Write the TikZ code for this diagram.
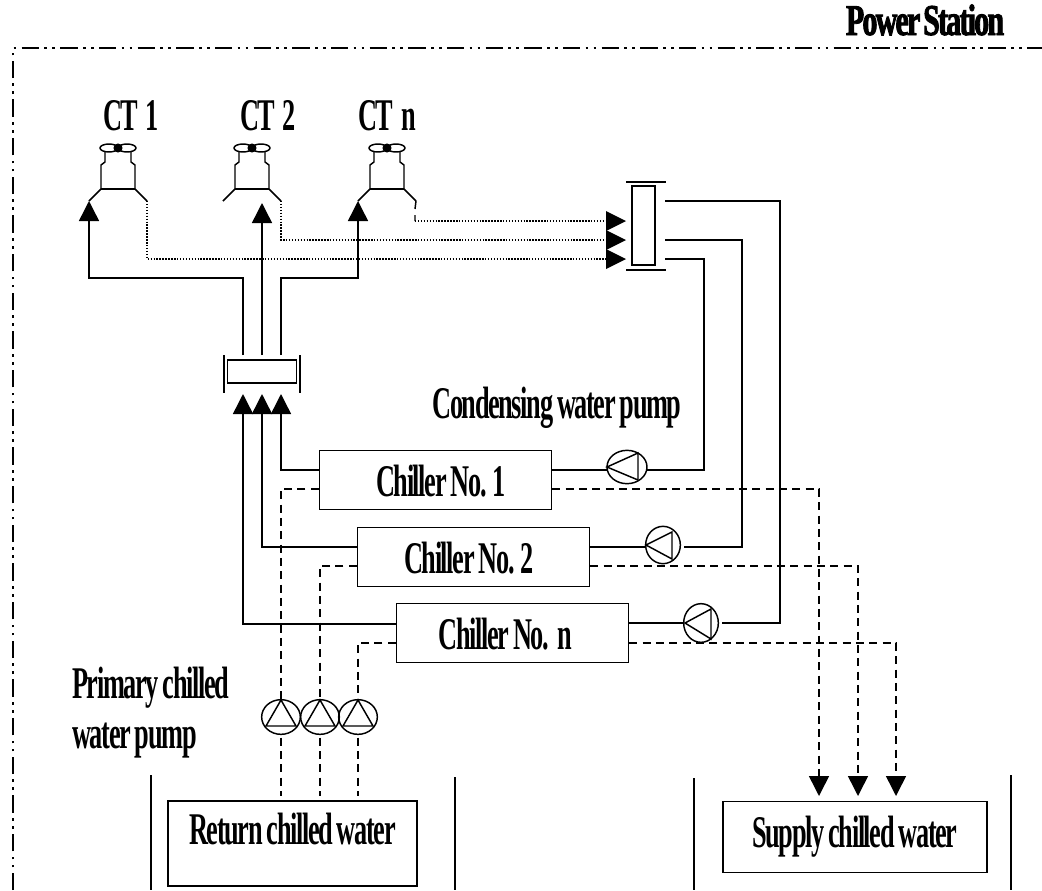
\documentclass[tikz,border=0pt]{standalone}
\usepackage{fontspec}
\setmainfont[FakeStretch=0.58,LetterSpace=-3,WordSpace=0.75]{Liberation Serif}
\newfontfamily\stationfont[FakeStretch=0.68,LetterSpace=-4,WordSpace=0.5,FakeBold=2]{Liberation Serif Bold}
\usetikzlibrary{arrows.meta,shapes.geometric}

\begin{document}
\begin{tikzpicture}[
    x=0.75pt, y=-0.75pt,
    font=\fontsize{34}{36}\selectfont\bfseries,
    line/.style = {line width=1.1pt},
    arrow/.style = {line, -{Triangle[length=15pt,width=15pt]}},
    dashline/.style = {line, dash pattern=on 6pt off 4pt},
    dashtip/.style = {dashline, -{Triangle[length=15pt,width=15pt]}},
    dotline/.style = {line width=0.8pt, dash pattern=on 1.1pt off 1.1pt},
    framing/.style = {line width=1.3pt, dash pattern=on 13pt off 4pt on 2pt off 4pt on 2pt off 4pt},
    box/.style = {rectangle, draw, line width=1.1pt, inner sep=0pt},
    chiller/.style = {box, minimum width=174pt, minimum height=44pt, text height=25pt, text depth=0pt},
    tank/.style = {box, minimum height=60pt},
    pump/.style = {ellipse, draw, line width=1.1pt, inner sep=0pt},
    tag/.style = {anchor=base, inner sep=0pt},
    tower/.pic = {
        \draw[line] (-17,41) -- (17,41);
        \draw[line] (-13,4) -- (-13,14) -- (-17,17) -- (-17,41) -- (-29,53) coordinate (-in);
        \draw[line] (13,4) -- (13,14) -- (17,17) -- (17,41) -- (29,53) coordinate (-out);
        \draw[line] (-9,0) ellipse (9 and 4) (9,0) ellipse (9 and 4);
        \fill (0,0) circle (3.4pt);
    }
]
    \useasboundingbox (0,0) rectangle (1042,890);

    % Station boundary
    \draw[framing] (13,890) -- (13,48) -- (1042,48);
    \node[tag, font=\fontsize{33}{35}\selectfont\stationfont] (station) at (925,35) {Power Station};

    % Cooling towers
    \pic (ctA) at (118,148) {tower};
    \pic (ctB) at (252,148) {tower};
    \pic (ctN) at (387,148) {tower};
    \node[tag] (ctAname) at (131,130) {CT\,1};
    \node[tag] (ctBname) at (268,130) {CT\,2};
    \node[tag] (ctNname) at (387,130) {CT\ \ n};

    % Headers
    \node[box, minimum width=17pt, minimum height=59pt] (headR) at (643.5,225.5) {};
    \draw[line] (626,182) -- (666,182) (626,270) -- (666,270);
    \node[box, minimum width=52pt, minimum height=17pt] (headL) at (262,371.5) {};
    \draw[line] (224,355) -- (224,393) (300,355) -- (300,393);

    % Chillers
    \node[chiller] (chillerA) at (435.5,480) {\hspace*{8pt}Chiller No. 1};
    \node[chiller] (chillerB) at (473.5,557) {Chiller No. 2\hspace*{7pt}};
    \node[chiller] (chillerN) at (512.5,633) {Chiller No.\ \ n\hspace*{11pt}};
    \node[tag] (condense) at (557,418) {Condensing water pump};

    % Condensing water pumps
    \node[pump, minimum width=30pt, minimum height=25pt] (pumpA) at (627,467) {};
    \node[pump, minimum width=26pt, minimum height=28pt] (pumpB) at (663,545) {};
    \node[pump, minimum width=26pt, minimum height=29pt] (pumpN) at (701,623) {};
    \draw[line] (607,467) -- (638,453) -- (638,480) -- cycle;
    \draw[line] (646,545) -- (672,532) -- (672,559) -- cycle;
    \draw[line] (685,623) -- (711,609) -- (711,639) -- cycle;

    % Primary chilled water pumps
    \foreach \name/\xpos in {pumpPA/281, pumpPB/320, pumpPN/358} {
        \node[pump, minimum width=29pt, minimum height=26pt] (\name) at (\xpos,717) {};
        \draw[line] (\xpos,700) -- ++(-15,26) -- ++(30,0) -- cycle;
    }
    \node[tag, anchor=base west] (primaryA) at (72,698) {Primary chilled};
    \node[tag, anchor=base west] (primaryB) at (72,748) {water pump};

    % Tanks
    \node[tank, minimum width=187pt, minimum height=64pt, text height=10pt, text depth=8pt] (return) at (292.5,843.5) {Return chilled water};
    \node[tank, minimum width=198pt, minimum height=53pt, text height=22pt, text depth=7pt] (supply) at (855,837) {Supply chilled water};
    \draw[line] (151,775) -- (151,890) (455,777) -- (455,890);
    \draw[line] (694,778) -- (694,890) (1011,775) -- (1011,890);

    % Tower return side
    \draw[arrow] (281,355) -- (281,278) -- (358,278) -- (ctN-in);
    \draw[arrow] (262,355) -- (262,203);
    \draw[arrow] (243,355) -- (243,278) -- (89,278) -- (ctA-in);

    % Tower to header, dotted
    \draw[dotline] (ctA-out) -- (147,259) -- (606,259);
    \draw[dotline] (ctB-out) -- (281,240) -- (606,240);
    \draw[line] (ctN-out) -- (415,209) (415,215) -- (415,221);
    \draw[dotline] (415,221) -- (606,221);
    \foreach \ypos in {221,240,259}
        \fill (606,\ypos-10) -- (626,\ypos) -- (606,\ypos+10) -- cycle;

    % Condenser water to chillers
    \draw[line] (665,201) -- (780,201) -- (780,623) -- (722,623);
    \draw[line] (665,240) -- (742,240) -- (742,547) -- (684,547);
    \draw[line] (665,259) -- (704,259) -- (704,470) -- (647,470);
    \draw[line] (chillerA.east |- 0,470) -- (607,470);
    \draw[line] (chillerB.east |- 0,547) -- (pumpB.west |- 0,547);
    \draw[line] (chillerN.east |- 0,623) -- (pumpN.west);

    % Chiller to left header
    \draw[arrow] (chillerA.west |- 0,470) -- (281,470) -- (281,394);
    \draw[arrow] (chillerB.west |- 0,547) -- (262,547) -- (262,394);
    \draw[arrow] (chillerN.west |- 0,624) -- (243,624) -- (243,394);

    % Chilled water, dashed
    \draw[dashline] (chillerA.west |- 0,489) -- (281,489) -- (pumpPA.north);
    \draw[dashline] (chillerB.west |- 0,566) -- (320,566) -- (pumpPB.north);
    \draw[dashline] (chillerN.west |- 0,643) -- (358,643) -- (pumpPN.north);
    \foreach \name in {pumpPA,pumpPB,pumpPN}
        \draw[dashline, shorten <=2pt, shorten >=3pt] (\name.south) -- (\name.south |- return.north);
    \draw[dashtip] (chillerA.east |- 0,489) -- (819,489) -- (819,796);
    \draw[dashtip] (chillerB.east |- 0,566) -- (858,566) -- (858,796);
    \draw[dashtip] (chillerN.east |- 0,643) -- (896,643) -- (896,796);
\end{tikzpicture}
\end{document}
